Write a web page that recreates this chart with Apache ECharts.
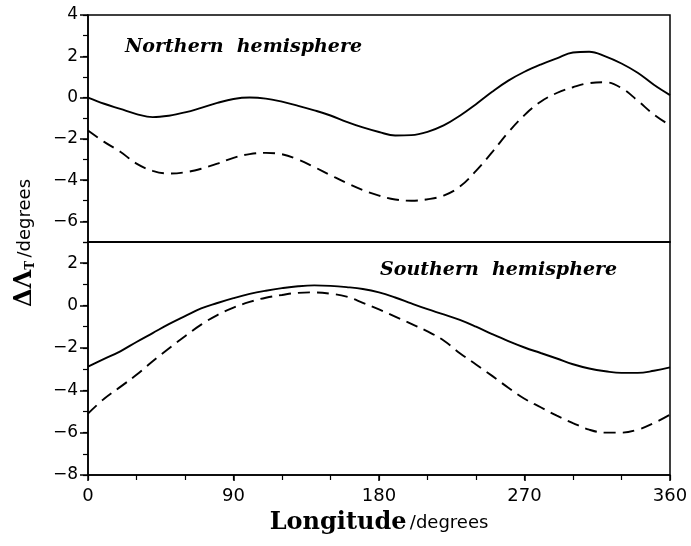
<!DOCTYPE html>
<html>
<head>
<meta charset="utf-8">
<script src="https://cdn.jsdelivr.net/npm/echarts@6/dist/echarts.min.js"></script>
<style>
  html, body { margin: 0; background: #fff; }
  #chart { width: 691px; height: 546px; }
</style>
</head>
<body>
<div id="chart"></div>
<script>
// longitude samples (degrees), every 10
const lon = [0, 10, 20, 30, 40, 50, 60, 70, 80, 90, 100, 110, 120, 130, 140, 150, 160, 170, 180,
             190, 200, 210, 220, 230, 240, 250, 260, 270, 280, 290, 300, 310, 320, 330, 340, 350, 360];

// Northern hemisphere
const northSolid = [0.0, -0.3, -0.55, -0.8, -0.95, -0.88, -0.72, -0.5, -0.26, -0.07, 0.0, -0.05, -0.2,
                    -0.4, -0.62, -0.87, -1.18, -1.45, -1.67, -1.84, -1.82, -1.66, -1.35, -0.88, -0.32,
                    0.28, 0.82, 1.25, 1.6, 1.9, 2.18, 2.22, 2.0, 1.65, 1.2, 0.62, 0.12];
const northDashed = [-1.6, -2.15, -2.63, -3.2, -3.55, -3.68, -3.62, -3.45, -3.2, -2.92, -2.74, -2.68, -2.75,
                     -3.0, -3.37, -3.76, -4.14, -4.48, -4.75, -4.94, -5.0, -4.93, -4.75, -4.32, -3.55,
                     -2.65, -1.68, -0.85, -0.2, 0.22, 0.5, 0.7, 0.74, 0.46, -0.15, -0.82, -1.35];

// Southern hemisphere
const southSolid = [-2.88, -2.52, -2.16, -1.72, -1.3, -0.88, -0.5, -0.13, 0.12, 0.35, 0.55, 0.7, 0.82,
                    0.91, 0.95, 0.93, 0.87, 0.78, 0.62, 0.38, 0.1, -0.17, -0.42, -0.68, -1.0,
                    -1.35, -1.68, -1.98, -2.24, -2.5, -2.77, -2.97, -3.1, -3.18, -3.18, -3.08, -2.92];
const southDashed = [-5.1, -4.4, -3.84, -3.27, -2.63, -2.03, -1.45, -0.9, -0.45, -0.1, 0.17, 0.37, 0.5,
                     0.6, 0.62, 0.56, 0.42, 0.13, -0.18, -0.52, -0.87, -1.22, -1.65, -2.25, -2.78,
                     -3.32, -3.88, -4.4, -4.8, -5.2, -5.55, -5.86, -6.0, -6.0, -5.86, -5.55, -5.15];

// ticks
const lonTicks = [0, 90, 180, 270, 360];
const lonMinor = [0, 30, 60, 90, 120, 150, 180, 210, 240, 270, 300, 330, 360];
const northTicks = [-6, -4, -2, 0, 2, 4];
const northMinor = [-7, -6, -5, -4, -3, -2, -1, 0, 1, 2, 3, 4];
const southTicks = [-8, -6, -4, -2, 0, 2];
const southMinor = [-8, -7, -6, -5, -4, -3, -2, -1, 0, 1, 2, 3];

const pairs = ys => lon.map((x, i) => [x, ys[i]]);
const fmt = v => (v < 0 ? '\u2212' + Math.abs(v) : String(v));
const ink = '#000';

function yMain(grid, lo, hi, ticks) {
  return {
    type: 'value', gridIndex: grid, min: lo, max: hi, position: 'left',
    splitLine: { show: false },
    axisLine: { show: true, onZero: false, lineStyle: { color: ink, width: 1.5 } },
    axisTick: { show: true, inside: false, length: 8, customValues: ticks, lineStyle: { color: ink, width: 1.5 } },
    axisLabel: { margin: 10, customValues: ticks, formatter: fmt, color: ink, fontFamily: 'DejaVu Sans', fontSize: 17 }
  };
}
function yMinor(grid, lo, hi, ticks) {
  return {
    type: 'value', gridIndex: grid, min: lo, max: hi, position: 'left',
    splitLine: { show: false },
    axisLine: { show: false, onZero: false },
    axisTick: { show: true, length: 5, customValues: ticks, lineStyle: { color: ink, width: 1.2 } },
    axisLabel: { show: false }
  };
}
function lineSeries(grid, ys, dash) {
  return {
    type: 'line', xAxisIndex: grid, yAxisIndex: grid, data: pairs(ys),
    smooth: 0.4, symbol: 'none',
    lineStyle: { color: ink, width: 1.9, type: dash ? [12, 7] : 'solid' }
  };
}

const myChart = echarts.init(document.getElementById('chart'));
myChart.setOption({
  animation: false,
  backgroundColor: '#fff',
  grid: [
    { left: 88, right: 21, top: 15, height: 227, show: true, borderColor: ink, borderWidth: 1.5, backgroundColor: 'transparent' },
    { left: 88, right: 21, top: 242, height: 233, show: true, borderColor: ink, borderWidth: 1.5, backgroundColor: 'transparent' }
  ],
  xAxis: [
    {
      type: 'value', gridIndex: 0, min: 0, max: 360, position: 'bottom',
      splitLine: { show: false }, axisLine: { onZero: false, lineStyle: { color: ink, width: 1.5 } },
      axisTick: { show: false }, axisLabel: { show: false }
    },
    {
      type: 'value', gridIndex: 1, min: 0, max: 360, position: 'bottom',
      splitLine: { show: false }, axisLine: { onZero: false, lineStyle: { color: ink, width: 1.5 } },
      axisTick: { show: true, length: 6, customValues: lonTicks, lineStyle: { color: ink, width: 1.5 } },
      axisLabel: { margin: 12, customValues: lonTicks, color: ink, fontFamily: 'DejaVu Sans', fontSize: 18 },
      name: '{a|Longitude} {b|/degrees}',
      nameLocation: 'middle',
      nameGap: 36,
      nameTextStyle: {
        rich: {
          a: { fontFamily: 'DejaVu Serif', fontWeight: 'bold', fontSize: 24, color: ink },
          b: { fontFamily: 'DejaVu Sans', fontSize: 18, color: ink }
        }
      }
    },
    {
      type: 'value', gridIndex: 1, min: 0, max: 360, position: 'bottom',
      splitLine: { show: false }, axisLine: { show: false, onZero: false },
      axisTick: { show: true, length: 5, customValues: lonMinor, lineStyle: { color: ink, width: 1.2 } },
      axisLabel: { show: false }
    }
  ],
  yAxis: [
    yMain(0, -7, 4, northTicks),
    yMain(1, -8, 3, southTicks),
    yMinor(0, -7, 4, northMinor),
    yMinor(1, -8, 3, southMinor)
  ],
  graphic: [
    {
      type: 'text', x: 25, y: 243, rotation: Math.PI / 2,
      style: {
        text: '{a|\u0394\u039B}{b|T} {c|/degrees}',
        align: 'center', verticalAlign: 'middle', fill: ink,
        rich: {
          a: { fontFamily: 'DejaVu Serif', fontWeight: 'bold', fontSize: 24, fill: ink },
          b: { fontFamily: 'DejaVu Serif', fontWeight: 'bold', fontSize: 12, fill: ink, verticalAlign: 'bottom', padding: [10, 0, 0, 0] },
          c: { fontFamily: 'DejaVu Sans', fontSize: 18, fill: ink }
        }
      }
    },
    {
      type: 'text', x: 125, y: 47,
      style: { text: 'Northern  hemisphere', fill: ink, font: 'italic bold 19px "DejaVu Serif"', verticalAlign: 'middle' }
    },
    {
      type: 'text', x: 380, y: 270,
      style: { text: 'Southern  hemisphere', fill: ink, font: 'italic bold 19px "DejaVu Serif"', verticalAlign: 'middle' }
    }
  ],
  series: [
    lineSeries(0, northSolid, false),
    lineSeries(0, northDashed, true),
    lineSeries(1, southSolid, false),
    lineSeries(1, southDashed, true)
  ]
});
</script>
</body>
</html>
